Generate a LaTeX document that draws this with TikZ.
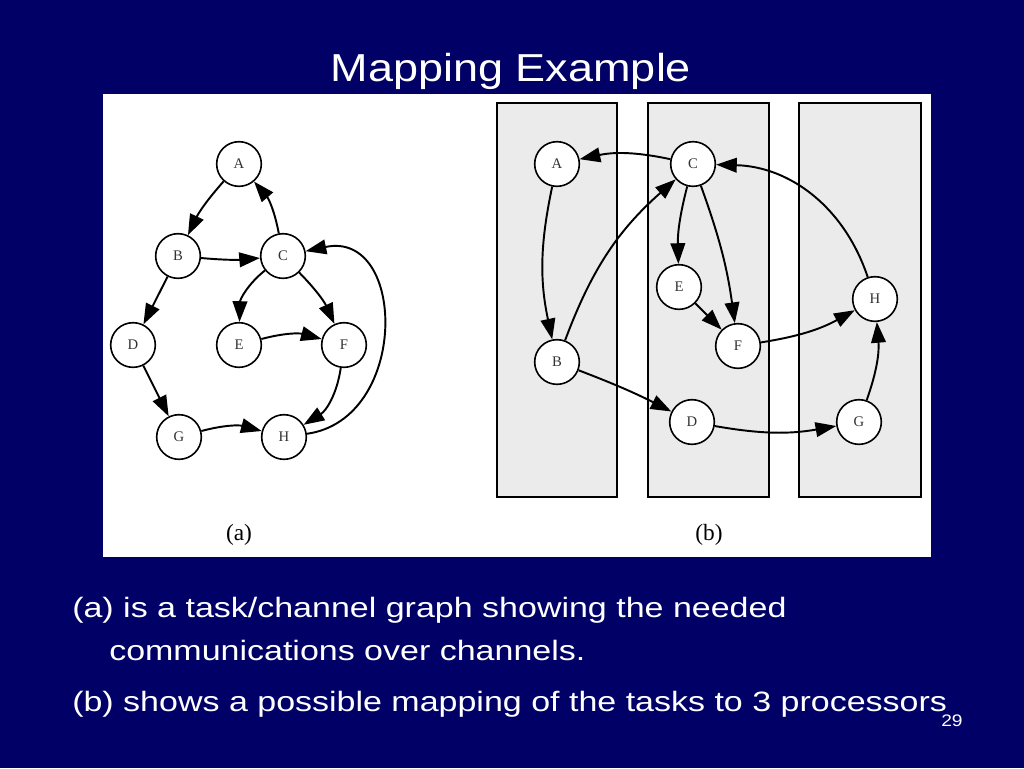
\documentclass[tikz,border=0pt]{standalone}
\usepackage{fontspec}
\usepackage{graphicx}
\setmainfont{Liberation Sans}
\newfontfamily\serifgraph{Liberation Serif}
\usetikzlibrary{arrows.meta}
\definecolor{slidebg}{RGB}{0,0,102}
\definecolor{procfill}{RGB}{235,235,235}
\definecolor{labelgray}{RGB}{50,50,50}
\tikzset{
  task/.style={circle, draw=black, fill=white, line width=1.2pt, minimum size=33.5pt, inner sep=0pt, font=\serifgraph\fontsize{11}{12}\selectfont, text=labelgray},
  chan/.style={line width=1.45pt, -{Triangle[length=15.5pt,width=11pt]}},
  proc/.style={draw=black, fill=procfill, line width=1.3pt},
  caption/.style={font=\serifgraph\fontsize{17.5}{19}\selectfont, text=black},
  bodytext/.style={anchor=base west, inner sep=0pt, text=white, font=\fontsize{21}{24}\selectfont}
}
\begin{document}
\begin{tikzpicture}[x=0.75pt,y=0.75pt]
\useasboundingbox (0,0) rectangle (1024,-768);
\fill[slidebg] (0,0) rectangle (1024,-768);
% title
\node[anchor=base, inner sep=0pt, text=white, font=\fontsize{29.25}{32}\selectfont] (title) at (511,-81) {\scalebox{1.154}[1]{Mapping Example}};
% white panel
\fill[white] (103,-94) rectangle (931,-557);
% ---------- (a) ----------
\node[task] (aA) at (239,-164) {A};
\node[task] (aB) at (178,-256) {B};
\node[task] (aC) at (283,-256) {C};
\node[task] (aD) at (133,-345) {D};
\node[task] (aE) at (239,-345) {E};
\node[task] (aF) at (344,-345) {F};
\node[task] (aG) at (179,-437) {G};
\node[task] (aH) at (284,-437) {H};
\draw[chan] (aA) to[bend right=8] (aB);
\draw[chan] (aC) to[bend right=15] (aA);
\draw[chan] (aB) to[bend right=5] (aC);
\draw[chan] (aB) -- (aD);
\draw[chan] (aC) to[bend right=25] (aE);
\draw[chan] (aC) to[bend left=10] (aF);
\draw[chan] (aE) to[bend left=15] (aF);
\draw[chan] (aF) to[bend left=25] (aH);
\draw[chan] (aD) -- (aG);
\draw[chan] (aG) to[bend left=15] (aH);
\draw[chan] (aH) to[out=8,in=12,looseness=1.45] (aC);
\node[caption] (capa) at (239,-535) {(a)};
% ---------- (b) ----------
\draw[proc] (497,-103) rectangle (617,-497);
\draw[proc] (648,-103) rectangle (769,-497);
\draw[proc] (799,-103) rectangle (921,-497);
\node[task] (bA) at (557,-164) {A};
\node[task] (bC) at (693,-164) {C};
\node[task] (bE) at (679,-287) {E};
\node[task] (bF) at (738,-346) {F};
\node[task] (bH) at (875,-299) {H};
\node[task] (bB) at (557,-362) {B};
\node[task] (bD) at (692,-422) {D};
\node[task] (bG) at (859,-422) {G};
\draw[chan] (bC) to[bend right=12] (bA);
\draw[chan] (bA) to[bend right=12] (bB);
\draw[chan] (bB) to[bend left=14] (bC);
\draw[chan] (bC) to[bend right=8] (bE);
\draw[chan] (bC) to[bend left=6] (bF);
\draw[chan] (bE) -- (bF);
\draw[chan] (bF) to[bend right=10] (bH);
\draw[chan] (bH) to[bend right=35] (bC);
\draw[chan] (bB) to[bend left=3] (bD);
\draw[chan] (bD) to[bend right=10] (bG);
\draw[chan] (bG) to[bend right=12] (bH);
\node[caption] (capb) at (709,-535) {(b)};
% ---------- text ----------
\node[bodytext] (t1) at (72,-617) {\scalebox{1.214}[1]{(a) is a task/channel graph showing the needed}};
\node[bodytext] (t2) at (109,-660) {\scalebox{1.214}[1]{communications over channels.}};
\node[bodytext] (t3) at (72,-711) {\scalebox{1.214}[1]{(b) shows a possible mapping of the tasks to 3 processors}};
\node[anchor=base west, inner sep=0pt, text=white, font=\fontsize{12.5}{14}\selectfont] (pg) at (941,-726) {\scalebox{1.15}[1]{29}};
\end{tikzpicture}
\end{document}
